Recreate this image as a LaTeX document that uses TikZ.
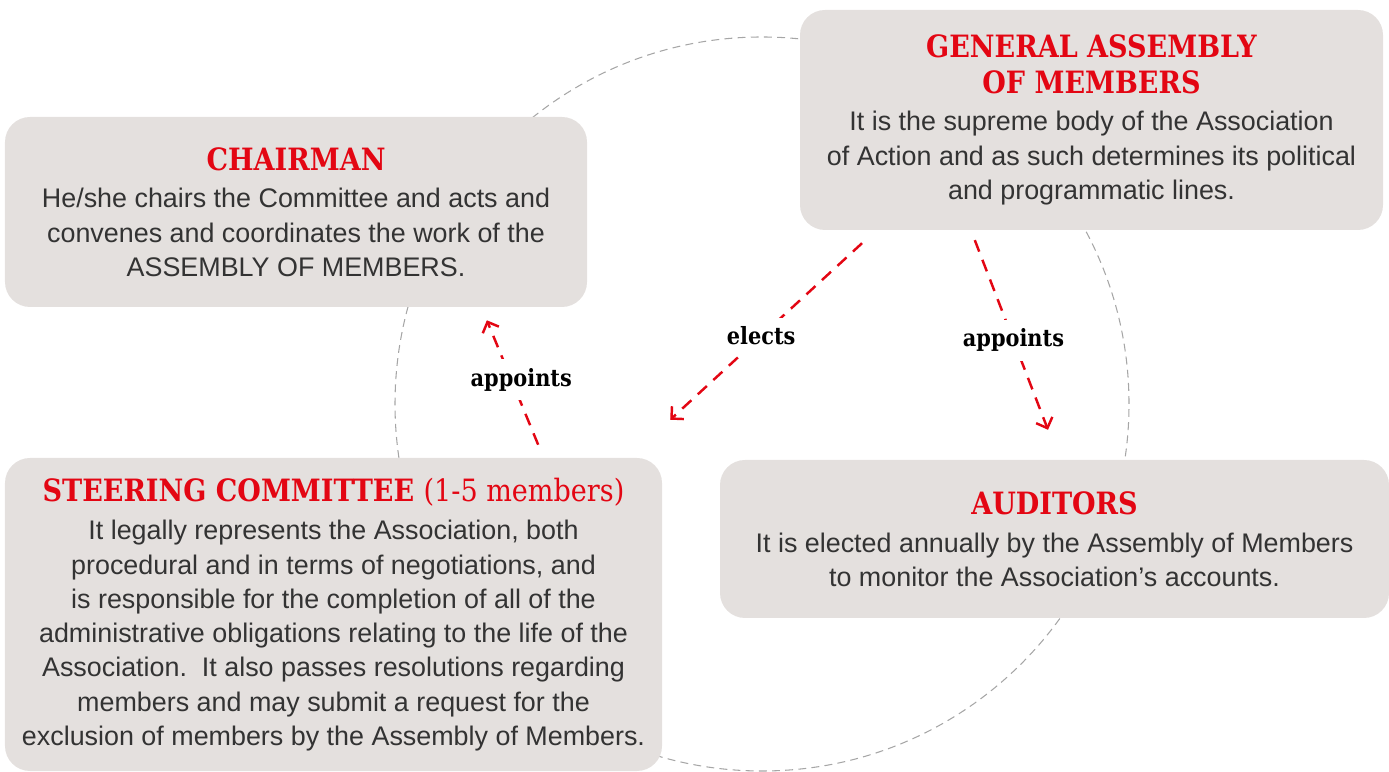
\documentclass[tikz,border=0pt]{standalone}
\usepackage{fontspec}
\setsansfont{Liberation Sans}
\newfontfamily\slabfont{DejaVu Serif}[FakeStretch=0.88]
\usetikzlibrary{arrows.meta}

\definecolor{assocred}{HTML}{E30613}
\definecolor{boxgray}{HTML}{E4E0DE}

\newcommand{\organtitle}[1]{{\slabfont\bfseries\color{assocred}\fontsize{17.5}{20.4}\selectfont #1}}

\begin{document}
\begin{tikzpicture}[
    organ/.style={fill=boxgray, rounded corners=0.5cm, align=center, inner sep=0pt,
        text=black!80, font=\sffamily\fontsize{15.3}{19.5}\selectfont},
    duty/.style={draw=assocred, line width=1.4pt, dash pattern=on 7pt off 5pt,
        -{Straight Barb[angle=90:7pt]}},
    verb/.style={fill=white, inner sep=5pt, text=black,
        font=\slabfont\bfseries\fontsize{13.5}{16}\selectfont}
]
    \useasboundingbox (0,0) rectangle (27.78,15.42);

    % Dashed ring behind the bodies
    \draw[gray!70, line width=0.6pt, dash pattern=on 4.5pt off 3pt] (15.24,7.34) circle (7.34);

    % Bodies of the association
    \node[organ, minimum width=11.64cm, minimum height=3.8cm] (chair) at (5.92,11.18)
        {\organtitle{CHAIRMAN}\\[2pt]
         He/she chairs the Committee and acts and\\
         convenes and coordinates the work of the\\
         ASSEMBLY OF MEMBERS.};

    \node[organ, minimum width=11.66cm, minimum height=4.4cm] (assembly) at (21.83,13.02)
        {\organtitle{GENERAL ASSEMBLY}\\[1pt]
         \organtitle{OF MEMBERS}\\[1.5pt]
         It is the supreme body of the Association\\
         of Action and as such determines its political\\
         and programmatic lines.};

    \node[organ, minimum width=13.14cm, minimum height=6.26cm] (steering) at (6.67,3.13)
        {\organtitle{STEERING COMMITTEE {\mdseries(1-5 members)}}\\[2.5pt]
         It legally represents the Association, both\\
         procedural and in terms of negotiations, and\\
         is responsible for the completion of all of the\\
         administrative obligations relating to the life of the\\
         Association.\ \ It also passes resolutions regarding\\
         members and may submit a request for the\\
         exclusion of members by the Assembly of Members.};

    \node[organ, minimum width=13.38cm, minimum height=3.16cm] (auditors) at (21.09,4.64)
        {\organtitle{AUDITORS}\\[2pt]
         It is elected annually by the Assembly of Members\\
         to monitor the Association’s accounts.};

    % Who elects and appoints whom
    \draw[duty, shorten <=0.28cm, shorten >=0.28cm] ([xshift=4.2cm]steering.north)
        -- node[verb, pos=0.52, xshift=0.2cm] {appoints} ([xshift=3.71cm]chair.south);
    \draw[duty, shorten <=0.38cm, shorten >=1.12cm] ([xshift=-4.31cm]assembly.south)
        -- node[verb, pos=0.465] {elects} ([xshift=5.91cm]steering.north);
    \draw[duty, shorten <=0.21cm, shorten >=0.64cm] ([xshift=-2.41cm]assembly.south)
        -- node[verb, pos=0.48] {appoints} ([xshift=0.1cm]auditors.north);
\end{tikzpicture}
\end{document}
